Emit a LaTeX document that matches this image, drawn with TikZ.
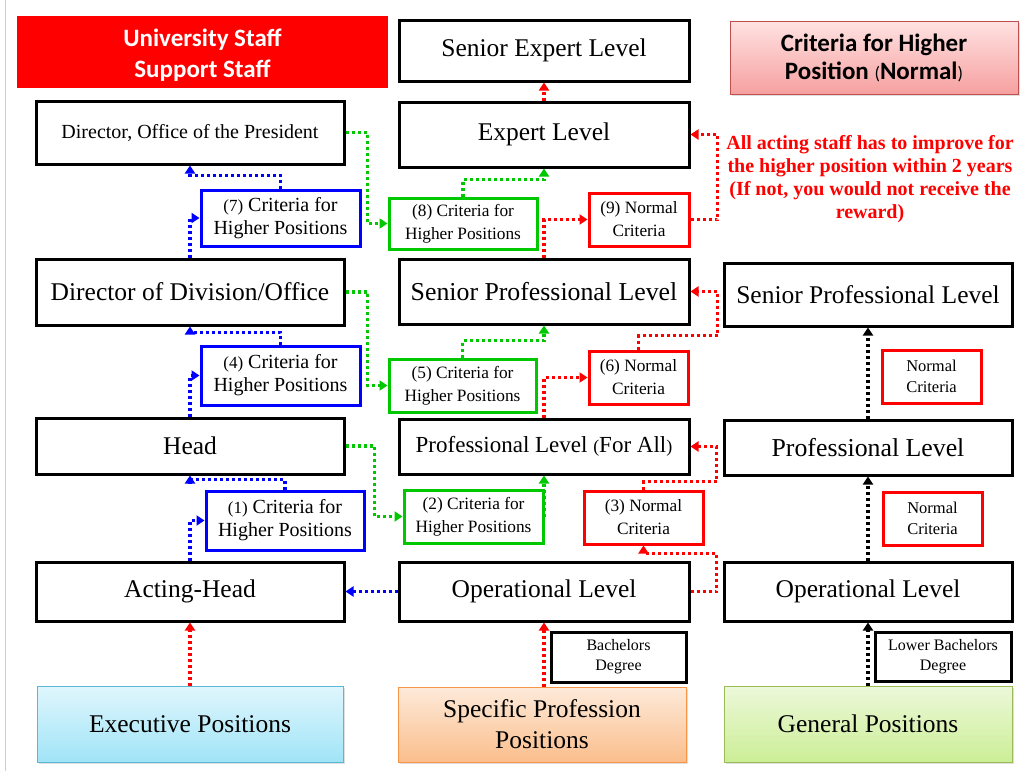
\documentclass[tikz,border=0pt]{standalone}
\usepackage{fontspec}
\setmainfont{Liberation Serif}
\newfontfamily\carlito{Carlito}
\usetikzlibrary{arrows.meta,shadows,calc}
\definecolor{mygreen}{RGB}{0,200,0}
\definecolor{myblue}{RGB}{0,0,255}
\definecolor{myred}{RGB}{255,0,0}
\definecolor{execborder}{RGB}{91,183,211}
\definecolor{exectop}{RGB}{224,246,253}
\definecolor{execbot}{RGB}{160,228,247}
\definecolor{spptop}{RGB}{253,234,218}
\definecolor{sppbot}{RGB}{251,190,140}
\definecolor{sppborder}{RGB}{247,150,70}
\definecolor{gptop}{RGB}{236,248,218}
\definecolor{gpbot}{RGB}{204,238,150}
\definecolor{gpborder}{RGB}{155,187,89}
\definecolor{crtop}{RGB}{255,226,226}
\definecolor{crbot}{RGB}{246,160,160}
\definecolor{crborder}{RGB}{192,80,77}
\newcommand\fs[2]{\fontsize{#1}{#2}\selectfont}
\begin{document}
\begin{tikzpicture}[x=1pt,y=-1pt,
  base/.style={line width=3pt, inner sep=0pt, align=center, fill=white},
  box/.style={base, draw=black},
  bbox/.style={base, draw=myblue},
  gbox/.style={base, draw=mygreen},
  rbox/.style={base, draw=myred},
  conn/.style={line width=3.4pt, dash pattern=on 3pt off 3pt,
     -{Triangle[length=8pt,width=10pt]}},
  bconn/.style={conn, draw=myblue},
  gconn/.style={conn, draw=mygreen},
  rconn/.style={conn, draw=myred},
  kconn/.style={conn, draw=black},
  shade box/.style={line width=1pt, inner sep=0pt, align=center,
     drop shadow={opacity=0.25, shadow xshift=1.5pt, shadow yshift=-1.5pt}},
]
\useasboundingbox (0,0) rectangle (1027,771);
\draw[line width=1pt, black!20] (5,0) -- (5,771);

% title boxes
\node[fill=myred, minimum width=371pt, minimum height=72pt, inner sep=0pt] (title) at (202.5,52) {};
\node[align=center, text=white, font=\carlito\bfseries\fs{25}{31}, inner sep=0pt] (titletext) at (202.5,55.5)
  {University Staff\\Support Staff};
\node[shade box, draw=crborder, top color=crtop, bottom color=crbot,
  minimum width=288pt, minimum height=73pt, font=\carlito\fs{25}{28}] (crit) at (874,57.5)
  {\bfseries Criteria for Higher\\\bfseries Position {\mdseries\fs{18}{28}(}Normal{\mdseries\fs{18}{28})}};

\node[text=myred, align=center, font=\bfseries\fs{20}{23}] (note) at (870,179)
  {All acting staff has to improve for\\the higher position within 2 years\\(If not, you would not receive the\\reward)};

% left column
\node[box, minimum width=308pt, minimum height=63pt, font=\fs{20}{23}] (dop) at (190,132.5) {Director, Office of the President};
\node[box, minimum width=308pt, minimum height=66pt, font=\fs{25.5}{28}] (dod) at (190,292) {Director of Division/Office};
\node[box, minimum width=308pt, minimum height=56pt, font=\fs{25.5}{28}] (head) at (190,446) {Head};
\node[box, minimum width=308pt, minimum height=59pt, font=\fs{25.5}{28}] (acting) at (190,591.5) {Acting-Head};
\node[shade box, draw=execborder, top color=exectop, bottom color=execbot,
  minimum width=306pt, minimum height=76pt, font=\fs{25.5}{28}] (exec) at (190,724) {Executive Positions};

\node[bbox, minimum width=159pt, minimum height=56pt, font=\fs{20}{23}] (c7) at (280.5,218) {{\fs{17}{23}(7)} Criteria for\\Higher Positions};
\node[bbox, minimum width=159pt, minimum height=59pt, font=\fs{20}{23}] (c4) at (280.5,375.5) {{\fs{17}{23}(4)} Criteria for\\Higher Positions};
\node[bbox, minimum width=158pt, minimum height=59pt, font=\fs{20}{23}] (c1) at (285,520.5) {{\fs{17}{23}(1)} Criteria for\\Higher Positions};

% middle column
\node[box, minimum width=290pt, minimum height=61pt, font=\fs{25.5}{28}] (sel) at (544,50.5) {Senior Expert Level};
\node[box, minimum width=290pt, minimum height=65pt, font=\fs{25.5}{28}] (el) at (544,134.5) {Expert Level};
\node[box, minimum width=290pt, minimum height=65pt, font=\fs{25.8}{28}] (spl) at (544,291.5) {Senior Professional Level};
\node[box, minimum width=290pt, minimum height=55pt, font=\fs{23}{28}] (pl) at (544,446.5) {Professional Level {\fs{18}{28}(}For All{\fs{18}{28})}};
\node[box, minimum width=290pt, minimum height=59pt, font=\fs{25.5}{28}] (ol) at (544,591.5) {Operational Level};
\node[shade box, draw=sppborder, top color=spptop, bottom color=sppbot,
  minimum width=288pt, minimum height=75pt, font=\fs{25.5}{31}] (spp) at (542,724.5) {Specific Profession\\Positions};

\node[gbox, minimum width=148pt, minimum height=51pt, font=\fs{17.3}{23}] (c8) at (463,223.5) {(8) Criteria for\\Higher Positions};
\node[gbox, minimum width=147pt, minimum height=53pt, font=\fs{17.3}{23}] (c5) at (462.5,385.5) {(5) Criteria for\\Higher Positions};
\node[gbox, minimum width=139pt, minimum height=53pt, font=\fs{17.3}{23}] (c2) at (473.5,516.5) {(2) Criteria for\\Higher Positions};

\node[rbox, minimum width=100pt, minimum height=53pt, font=\fs{17.3}{23}] (c9) at (639,219.5) {(9) Normal\\Criteria};
\node[rbox, minimum width=99pt, minimum height=53pt, font=\fs{17.3}{23}] (c6) at (638.5,377.5) {(6) Normal\\Criteria};
\node[rbox, minimum width=119pt, minimum height=53pt, font=\fs{17.3}{23}] (c3) at (643.5,517.5) {(3) Normal\\Criteria};
\node[box, minimum width=135pt, minimum height=50pt, font=\fs{16}{20}] (bach) at (618.5,657) {Bachelors\\Degree};

% right column
\node[box, minimum width=288pt, minimum height=63pt, font=\fs{25.5}{28}] (rspl) at (868,294.5) {Senior Professional Level};
\node[box, minimum width=288pt, minimum height=55pt, font=\fs{25.8}{28}] (rpl) at (868,447.5) {Professional Level};
\node[box, minimum width=288pt, minimum height=59pt, font=\fs{25.5}{28}] (rol) at (868,591.5) {Operational Level};
\node[shade box, draw=gpborder, top color=gptop, bottom color=gpbot,
  minimum width=288pt, minimum height=76pt, font=\fs{25.5}{28}] (gp) at (868,724) {General Positions};
\node[rbox, minimum width=99pt, minimum height=53pt, font=\fs{16.5}{21}] (nc1) at (931.5,376.5) {Normal\\Criteria};
\node[rbox, minimum width=99pt, minimum height=53pt, font=\fs{16.5}{21}] (nc2) at (932.5,518.5) {Normal\\Criteria};
\node[box, minimum width=136pt, minimum height=49pt, font=\fs{16}{20}] (lbach) at (943,656.5) {Lower Bachelors\\Degree};

% blue connectors
\draw[bconn] (ol.west) -- (acting.east);
\draw[bconn] (acting.north) |- (c1.west);
\draw[bconn] (c1.north) -- ++(0,-10) -| (head.south);
\draw[bconn] (head.north) |- (c4.west);
\draw[bconn] (c4.north) -- ++(0,-12) -| (dod.south);
\draw[bconn] (dod.north) |- (c7.west);
\draw[bconn] (c7.north) -- ++(0,-13) -| (dop.south);

% green connectors
\draw[gconn] (dop.east) -- ++(22,0) |- (c8.west);
\draw[gconn] (c8.north) -- ++(0,-17) -| (el.south);
\draw[gconn] (dod.east) -- ++(22,0) |- (c5.west);
\draw[gconn] (c5.north) -- ++(0,-17) -| (spl.south);
\draw[gconn] (head.east) -- ++(29,0) |- (c2.west);
\draw[gconn] (c2.east -| pl.south) -- (pl.south);

% red connectors
\draw[rconn] (exec.north) -- (acting.south);
\draw[rconn] (spp.north -| ol.south) -- (ol.south);
\draw[rconn] (ol.east) -- ++(26,0) |- ($(c3.south)+(0,8)$) -- (c3.south);
\draw[rconn] (c3.north) -- ++(0,-8) -| ($(pl.east)+(26,0)$) -- (pl.east);
\draw[rconn] (pl.north) |- (c6.west);
\draw[rconn] (c6.north) -- ++(0,-14) -| ($(spl.east)+(27,0)$) -- (spl.east);
\draw[rconn] (spl.north) |- (c9.west);
\draw[rconn] (c9.east) -- ++(27,0) |- (el.east);
\draw[rconn] (el.north) -- (sel.south);

% black connectors
\draw[kconn] (gp.north) -- (rol.south);
\draw[kconn] (rol.north) -- (rpl.south);
\draw[kconn] (rpl.north) -- (rspl.south);
\end{tikzpicture}
\end{document}
